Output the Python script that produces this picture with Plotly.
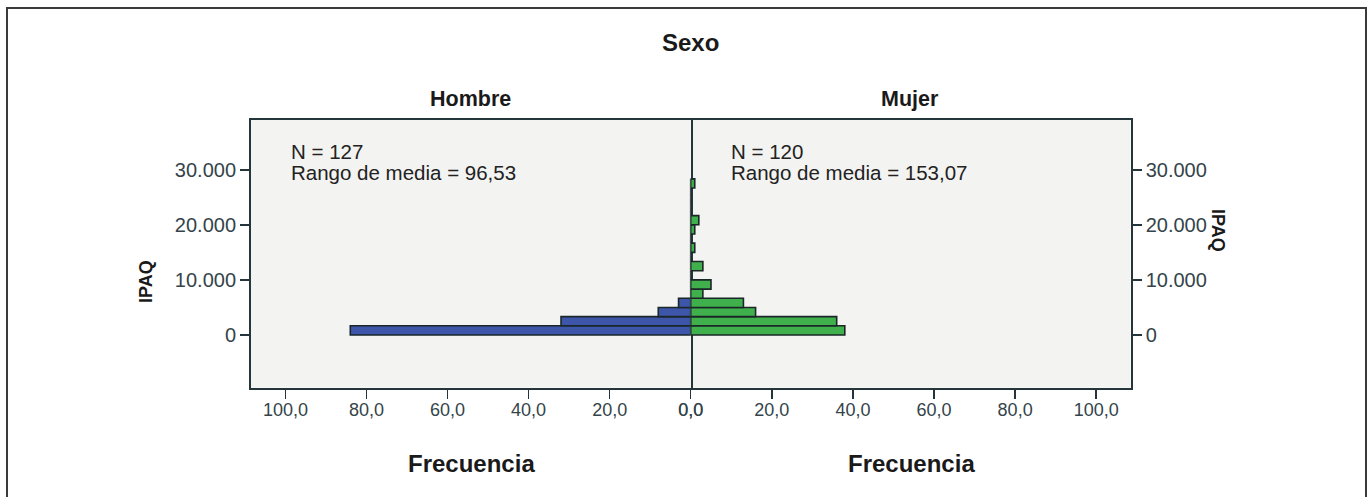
import plotly.graph_objects as go

# ---- data ----
ipaq_bin_mid = [835, 2505, 4175, 5845, 7515, 9185, 10855, 12525, 14195,
                15865, 17535, 19205, 20875, 22545, 24215, 25885, 27555]
bin_width = 1670
freq_hombre = [84, 32, 8, 3, 0, 0, 0, 0, 0, 0, 0, 0, 0, 0, 0, 0, 0]
freq_mujer = [38, 36, 16, 13, 3, 5, 0, 3, 0, 1, 0, 1, 2, 0, 0, 0, 1]
x_tick_vals = [0, 20, 40, 60, 80, 100]
x_tick_text = ["0,0", "20,0", "40,0", "60,0", "80,0", "100,0"]
y_tick_vals = [0, 10000, 20000, 30000]
y_tick_text = ["0", "10.000", "20.000", "30.000"]
n_hombre = "N = 127"
rango_hombre = "Rango de media = 96,53"
n_mujer = "N = 120"
rango_mujer = "Rango de media = 153,07"

W, H = 1370, 497
def px(x): return x / W
def py(y): return 1 - y / H

BLUE = "#3d56aa"
GREEN = "#3fb04b"
EDGE = "#1a2628"
FRAME = "#24363b"
TICKC = "#34444a"
NARROW = "Liberation Sans Narrow, Arial Narrow, sans-serif"
SANS = "Liberation Sans, Arial, sans-serif"

fig = go.Figure()
fig.add_trace(go.Bar(y=ipaq_bin_mid, x=freq_hombre, orientation="h", width=bin_width,
                     marker=dict(color=BLUE, line=dict(color=EDGE, width=1.6)),
                     xaxis="x", yaxis="y", showlegend=False, hoverinfo="skip"))
fig.add_trace(go.Bar(y=ipaq_bin_mid, x=freq_mujer, orientation="h", width=bin_width,
                     marker=dict(color=GREEN, line=dict(color=EDGE, width=1.6)),
                     xaxis="x2", yaxis="y2", showlegend=False, hoverinfo="skip"))

xl, xc, xr = 251, 690.7, 1130.7
yt, yb = 120, 387.7
xrange_max = 108.5
yrange = [-9580, 39090]

def axis_common(mirror=True):
    return dict(showline=True, linecolor=FRAME, linewidth=2, mirror=mirror,
                showgrid=False, zeroline=False, ticks="outside", ticklen=9,
                tickcolor=FRAME, tickwidth=1.5, automargin=False, fixedrange=True)

fig.update_layout(
    template="none",
    width=W, height=H, autosize=False,
    margin=dict(l=0, r=0, t=0, b=0, pad=0),
    paper_bgcolor="white", plot_bgcolor="#f3f3f1",
    bargap=0,
    xaxis=dict(domain=[px(xl), px(xc)], range=[xrange_max, 0], anchor="y",
               tickvals=x_tick_vals, ticktext=x_tick_text, ticklabelstandoff=-4,
               tickfont=dict(family=NARROW, size=18, color=TICKC), **axis_common()),
    xaxis2=dict(domain=[px(xc), px(xr)], range=[0, xrange_max], anchor="y2",
                tickvals=x_tick_vals, ticktext=x_tick_text, ticklabelstandoff=-4,
                tickfont=dict(family=NARROW, size=18, color=TICKC), **axis_common()),
    yaxis=dict(domain=[py(yb), py(yt)], range=yrange, anchor="x",
               tickvals=y_tick_vals, ticktext=y_tick_text,
               tickfont=dict(family=SANS, size=20, color=TICKC), **axis_common(True)),
    yaxis2=dict(domain=[py(yb), py(yt)], range=yrange, anchor="x2", side="right",
                matches="y", tickvals=y_tick_vals, ticktext=y_tick_text,
                tickfont=dict(family=SANS, size=20, color=TICKC), **axis_common(False)),
)

def ann(text, x, y, size, family, bold=True, xanchor="center", yanchor="middle",
        angle=0, color="#1a1a1a"):
    fig.add_annotation(text=f"<b>{text}</b>" if bold else text,
                       x=px(x), y=py(y), xref="paper", yref="paper",
                       xanchor=xanchor, yanchor=yanchor, showarrow=False,
                       textangle=angle,
                       font=dict(family=family, size=size, color=color))

ann("Sexo", 690, 42, 24, SANS)
ann("Hombre", 470, 99, 21.5, SANS)
ann("Mujer", 910, 99, 21.5, SANS)
ann("Frecuencia", 471, 463, 24, SANS)
ann("Frecuencia", 911, 463, 24, SANS)
ann("IPAQ", 146, 282, 18, SANS, angle=-90)
ann("IPAQ", 1218, 230, 18, SANS, angle=90)
ann(n_hombre, 289, 151, 20.5, SANS, bold=False, xanchor="left", color="#222222")
ann(rango_hombre, 289, 173, 20.5, SANS, bold=False, xanchor="left", color="#222222")
ann(n_mujer, 729, 151, 20.5, SANS, bold=False, xanchor="left", color="#222222")
ann(rango_mujer, 729, 173, 20.5, SANS, bold=False, xanchor="left", color="#222222")

# outer frame
fig.add_shape(type="rect", xref="paper", yref="paper",
              x0=px(7), x1=px(1366), y0=py(520), y1=py(8),
              line=dict(color="#3a3a3a", width=2), fillcolor="rgba(0,0,0,0)")

fig.write_html(
    "out.html",
    config={"displayModeBar": False, "responsive": False, "staticPlot": True},
    post_script="document.documentElement.style.overflow='hidden';"
                "document.body.style.margin='0px';document.body.style.overflow='hidden';",
)
